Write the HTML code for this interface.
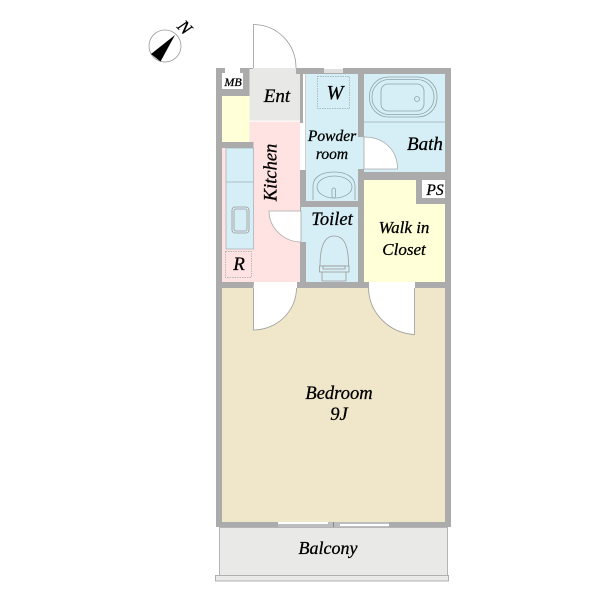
<!DOCTYPE html>
<html><head><meta charset="utf-8"><style>
html,body{margin:0;padding:0;background:#fff}
svg{display:block}
text{font-family:"Liberation Serif",serif;font-style:italic;fill:#000;stroke:#000;stroke-width:.3;text-anchor:middle}
.f{fill:none;stroke:#9a9a9a;stroke-width:.8}
.b{fill:none;stroke:#8fa3a8;stroke-width:.8}
</style></head><body>
<svg width="600" height="600" viewBox="0 0 600 600" xmlns="http://www.w3.org/2000/svg">
<!-- compass -->
<circle cx="165" cy="46" r="16" fill="#fff" stroke="#999" stroke-width=".8"/>
<path d="M175 35L151 54L160.500 61.500Z" fill="#000"/>
<text x="184" y="33" font-size="18" transform="rotate(45 184 28)">N</text>
<!-- walls base -->
<rect x="216" y="68" width="235" height="459" fill="#ababab"/>
<!-- balcony -->
<rect x="219.500" y="527.500" width="228" height="48" fill="#e9e9e7" stroke="#b5b5b5"/>
<rect x="215.500" y="575.500" width="233" height="5.500" fill="#e9e9e7" stroke="#b0b0b0"/>
<!-- rooms -->
<rect x="222" y="96" width="27.500" height="46" fill="#ffffd8"/>
<rect x="249.500" y="69" width="50.500" height="52" fill="#e8e8e6"/>
<rect x="249.500" y="121" width="50.500" height="161" fill="#ffe3e3"/>
<rect x="249.500" y="120.600" width="50.500" height="1" fill="#fff"/>
<rect x="222" y="148" width="32" height="134" fill="#ffe3e3"/>
<rect x="249.500" y="142" width="4" height="6" fill="#ababab"/>
<!-- slit between kitchen and powder room -->
<rect x="296" y="68" width="10" height="6" fill="#ababab"/>
<rect x="300" y="74" width="3.500" height="49" fill="#ababab"/>
<rect x="300" y="123" width="6" height="47" fill="#fff"/>
<rect x="303" y="74" width="3" height="49" fill="#fff"/>
<rect x="305" y="74" width=".8" height="96" fill="#c4c4c4"/>
<rect x="300" y="170" width="6" height="31" fill="#ababab"/>
<rect x="306" y="74" width="52" height="127" fill="#d6eef5"/>
<rect x="301" y="207" width="57" height="75" fill="#d6eef5"/>
<rect x="300" y="242" width="6" height="40" fill="#ababab"/>
<rect x="364" y="74" width="81" height="98" fill="#d6eef5"/>
<rect x="358" y="137" width="6" height="32" fill="#d6eef5"/>
<path d="M364 180H416V204H445V282H364Z" fill="#ffffd8"/>
<rect x="222" y="288" width="223" height="234" fill="#f0e6ca"/>
<!-- MB / PS -->
<rect x="222" y="73" width="21" height="16" fill="#fff"/>
<rect x="225" y="68" width="15" height="5" fill="#fff"/>
<rect x="422" y="180" width="23" height="18" fill="#fff"/>
<!-- top window -->
<rect x="324" y="68" width="19" height="5" fill="#fff"/>
<path d="M324 70H343M324 72H343" stroke="#aaa" stroke-width=".7"/>
<!-- entry door -->
<rect x="253" y="68" width="43" height="1.500" fill="#e8e8e6"/>
<path d="M253.500 68V24.500C278 25 296 44 296 68" class="f"/>
<!-- kitchen counter -->
<rect x="226" y="148" width="27.500" height="101" fill="#d6eef5" stroke="#9fb0b5" stroke-width=".7"/>
<path d="M226 182H253.500" stroke="#9fb0b5" stroke-width=".7"/>
<rect x="232" y="207" width="17" height="26" rx="3" class="f"/>
<rect x="234" y="209" width="13" height="22" rx="2" class="f"/>
<rect x="225.500" y="251.500" width="26" height="26" fill="#ffe3e3" stroke="#a5a5a5" stroke-width=".7" stroke-dasharray="1.500 1"/>
<!-- toilet door from kitchen -->
<path d="M269 211H301V242C284 242 269 228 269 211Z" fill="#fff" stroke="#aaa" stroke-width=".8"/>
<!-- bedroom door -->
<path d="M254 282H297V288C297 311 277 330 253.500 330V288Z" fill="#fff"/>
<path d="M253.500 288V330C277 330 296.500 311 296.500 288" class="f"/>
<!-- closet door -->
<path d="M369 282H415V334C389 333 369 313 369 288Z" fill="#fff"/>
<path d="M414.500 288V334.500C389 333 369 313 368.500 288" class="f"/>
<!-- bath door -->
<path d="M364 137C384 137 397.500 150 397.500 169H364Z" fill="#fff" stroke="#aaa" stroke-width=".8"/>
<!-- bath -->
<path d="M364 122H445" stroke="#9fb0b5" stroke-width=".8"/>
<rect x="369.500" y="77" width="67.500" height="40" rx="19" class="b"/>
<rect x="372" y="79.500" width="62" height="35" rx="17" class="b"/>
<rect x="381" y="84" width="43" height="27" rx="7" class="b"/>
<circle cx="417" cy="99" r="2.500" class="b"/>
<!-- W -->
<rect x="317.500" y="76.500" width="32" height="32" fill="none" stroke="#99a8ad" stroke-width=".7" stroke-dasharray="1.500 1"/>
<!-- basin -->
<path d="M313 200V186C313 177 322 172 334 172C346 172 355 177 355 186V200" class="b"/>
<ellipse cx="334.500" cy="187" rx="17.500" ry="11" class="b"/>
<rect x="332" y="188" width="3.500" height="10" rx="1.700" class="b"/>
<!-- toilet -->
<path d="M320 266C320 245 325 236 334 236C344 236 348.500 245 348.500 266" class="f"/>
<rect x="319.500" y="266" width="29.500" height="6" class="f"/>
<rect x="323" y="266" width="22" height="3" class="f"/>
<path d="M322 272V281M346 272V281M322 281H346" class="f"/>
<!-- balcony windows -->
<rect x="278" y="522" width="111" height="5" fill="#bdbdbd"/>
<rect x="278" y="522" width="50" height="2" fill="#fff"/>
<rect x="340" y="524" width="49" height="2" fill="#fff"/>
<rect x="333" y="522" width="1" height="5" fill="#888"/>
<!-- labels -->
<text x="233" y="86" font-size="12">MB</text>
<text x="277" y="102" font-size="19">Ent</text>
<text x="335" y="99" font-size="20">W</text>
<text x="332" y="141" font-size="15.500">Powder</text>
<text x="332" y="159" font-size="15.500">room</text>
<text x="425" y="150" font-size="19">Bath</text>
<text x="435" y="195" font-size="15.500">PS</text>
<text x="332" y="225" font-size="18.500">Toilet</text>
<text x="404" y="233" font-size="17">Walk in</text>
<text x="404" y="255" font-size="17">Closet</text>
<text x="239" y="270" font-size="19">R</text>
<text x="0" y="0" font-size="18.500" transform="translate(276.500 172.500) rotate(-90)">Kitchen</text>
<text x="339" y="399" font-size="18.500">Bedroom</text>
<text x="339" y="420" font-size="18.500">9J</text>
<text x="328" y="554" font-size="18">Balcony</text>
</svg>
</body></html>
